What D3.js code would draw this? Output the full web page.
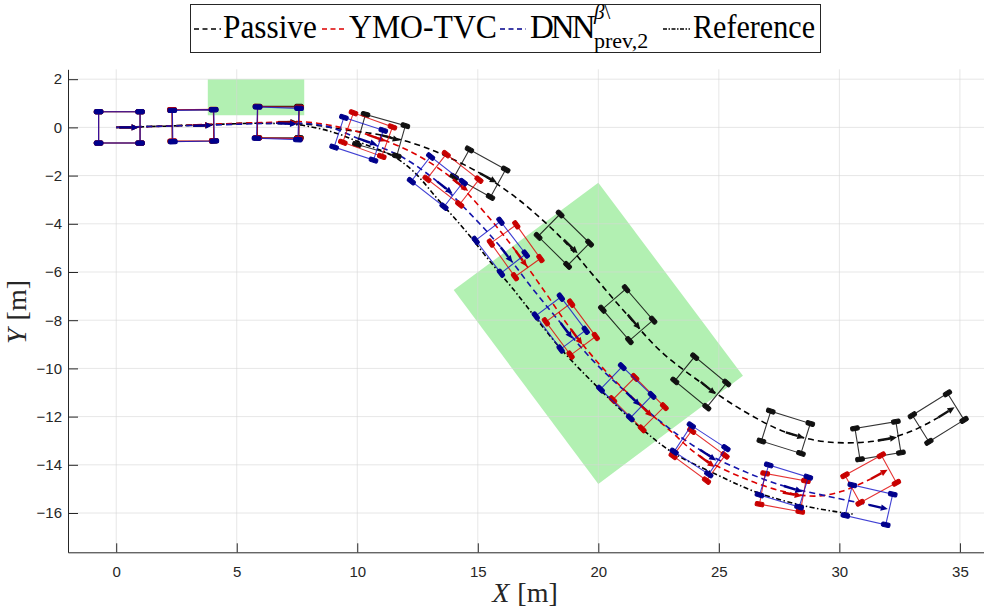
<!DOCTYPE html>
<html>
<head>
<meta charset="utf-8">
<script src="https://cdn.jsdelivr.net/npm/d3@7"></script>
<style>
  body { margin: 0; background: #fff; }
</style>
</head>
<body>
<svg id="chart" width="984" height="611"></svg>
<script>
// axis ticks
const xTicks = [0, 5, 10, 15, 20, 25, 30, 35];
const yTicks = [-16, -14, -12, -10, -8, -6, -4, -2, 0, 2];

// trajectories (m)
const refX = [0, 2, 4, 6, 7.6, 9, 10.1, 11.4, 12.3, 13.4, 14.5, 15.5, 16.5, 17.4, 18.5, 19.95, 21.74, 23.1, 24.9, 26.6, 28.7, 30.6];
const refY = [0, 0.05, 0.12, 0.17, 0.1, -0.2, -0.62, -1.15, -1.8, -3.05, -4.3, -5.55, -6.75, -7.9, -9.25, -10.76, -12.45, -13.5, -14.4, -15.15, -15.74, -16.05];

const passiveX = [0, 2, 4, 6, 8, 9.5, 10.99, 12.5, 13.7, 15.09, 16.3, 17.3, 18.57, 19.8, 21.22, 22.6, 24.25, 26, 27.78, 29.5, 31.6, 33, 34.1];
const passiveY = [0, 0.06, 0.12, 0.18, 0.12, -0.1, -0.32, -0.72, -1.2, -1.9, -2.7, -3.5, -4.7, -6.15, -7.8, -9.3, -10.58, -11.75, -12.65, -13.05, -13.0, -12.6, -12.04];

const ymoX = [0, 2, 4.2, 6.72, 7.6, 8.8, 10.43, 12.3, 13.97, 15.3, 16.57, 17.8, 18.86, 20.2, 21.67, 23, 24.18, 25.9, 27.65, 29, 30.1, 31.3];
const ymoY = [0, 0.05, 0.14, 0.22, 0.24, 0.1, -0.3, -1.05, -2.15, -3.55, -5.12, -6.85, -8.37, -10.0, -11.44, -12.6, -13.62, -14.5, -15.1, -15.3, -15.1, -14.59];

const dnnX = [0, 2, 4, 6.7, 8, 8.9, 10.06, 11.8, 13.32, 14.7, 15.95, 17.2, 18.44, 19.8, 21.16, 22.7, 24.22, 26, 27.7, 29.5, 31.23];
const dnnY = [0, 0.05, 0.1, 0.17, 0.15, 0, -0.47, -1.2, -2.25, -3.6, -4.97, -6.6, -8.12, -9.7, -10.99, -12.3, -13.38, -14.25, -14.88, -15.3, -15.66];

// vehicle snapshots: centre (m) and heading (deg)
const passiveCarX = [0.13, 3.18, 6.72, 10.99, 15.09, 18.57, 21.22, 24.25, 27.78, 31.6, 34.1];
const passiveCarY = [0, 0.08, 0.22, -0.32, -1.9, -4.66, -7.77, -10.56, -12.65, -12.99, -12.04];
const passiveCarPsi = [0, 0.5, 0, -15.9, -29, -44.6, -49.2, -39.4, -17.4, 9.3, 32];

const ymoCarX = [0.13, 3.18, 6.72, 10.43, 13.97, 16.57, 18.86, 21.67, 24.18, 27.65, 31.3];
const ymoCarY = [0, 0.09, 0.2, -0.3, -2.15, -5.12, -8.37, -11.44, -13.62, -15.15, -14.59];
const ymoCarPsi = [0, 0.5, -1, -19.9, -37.9, -54.4, -53.5, -45, -36.4, -10.4, 28.8];

const dnnCarX = [0.13, 3.2, 6.7, 10.06, 13.32, 15.95, 18.44, 21.16, 24.22, 27.7, 31.23];
const dnnCarY = [0, 0.07, 0.17, -0.47, -2.25, -4.97, -8.12, -10.99, -13.38, -14.88, -15.66];
const dnnCarPsi = [0, 1, -2, -18.2, -38, -52.4, -53.1, -44, -33.2, -17.1, -12.9];

// green zones
const zone1X = [3.8, 7.8, 7.8, 3.8];
const zone1Y = [0.5, 0.5, 2, 2];
const zone2X = [20, 26, 20, 14];
const zone2Y = [-2.3, -10.3, -14.8, -6.75];

// vehicle geometry (m)
const halfLen = 0.86, halfWid = 0.65, wheelLen = 0.36, wheelWid = 0.18, arrowLen = 0.8;

const svg = d3.select("#chart");

const x = d3.scaleLinear().domain([-2, 36]).range([68, 984]);
const y = d3.scaleLinear().domain([-17.63, 2.41]).range([552.3, 69.3]);
const k = x(1) - x(0);

// green areas
const zonePath = d3.line().x((d) => x(d[0])).y((d) => y(d[1]));
[[zone1X, zone1Y], [zone2X, zone2Y]].forEach(([zx, zy]) => {
  svg.append("path")
    .attr("d", zonePath(zx.map((v, i) => [v, zy[i]])) + "Z")
    .attr("fill", "#b2f0b2");
});

// grid
const grid = svg.append("g").attr("stroke", "#d6d6d6").attr("stroke-opacity", 0.6).attr("stroke-width", 1);
xTicks.forEach((t) => {
  grid.append("line").attr("x1", x(t)).attr("x2", x(t)).attr("y1", y.range()[0]).attr("y2", y.range()[1]);
});
yTicks.forEach((t) => {
  grid.append("line").attr("x1", x.range()[0]).attr("x2", x.range()[1]).attr("y1", y(t)).attr("y2", y(t));
});

// axes
const xAxis = svg.append("g")
  .attr("transform", `translate(0,${y.range()[0]})`)
  .call(d3.axisBottom(x).tickValues(xTicks).tickSizeInner(-9).tickSizeOuter(0).tickPadding(14));
const yAxis = svg.append("g")
  .attr("transform", `translate(${x.range()[0]},0)`)
  .call(d3.axisLeft(y).tickValues(yTicks).tickSizeInner(-10).tickSizeOuter(0).tickPadding(6));
[xAxis, yAxis].forEach((a) => {
  a.selectAll("path").attr("stroke", "#262626");
  a.selectAll("line").attr("stroke", "#262626");
  a.selectAll("text")
    .attr("fill", "#262626")
    .style("font-family", "'Liberation Sans', Arial, sans-serif")
    .style("font-size", "15px");
});

// trajectories
const line = d3.line().x((d) => x(d[0])).y((d) => y(d[1])).curve(d3.curveCatmullRom.alpha(0.5));
const traj = [
  { xs: refX, ys: refY, color: "#000", dash: "5,2.5,1.5,2.5" },
  { xs: passiveX, ys: passiveY, color: "#000", dash: "6,4" },
  { xs: ymoX, ys: ymoY, color: "#dd0000", dash: "6,4" },
  { xs: dnnX, ys: dnnY, color: "#1414aa", dash: "6,4" }
];
traj.forEach((t) => {
  svg.append("path")
    .attr("d", line(t.xs.map((v, i) => [v, t.ys[i]])))
    .attr("fill", "none")
    .attr("stroke", t.color)
    .attr("stroke-width", 1.6)
    .attr("stroke-dasharray", t.dash);
});

// vehicles
function drawCars(xs, ys, psis, lineColor, wheelColor) {
  const g = svg.append("g");
  xs.forEach((cx, i) => {
    const cy = ys[i];
    const a = psis[i] * Math.PI / 180;
    const ux = Math.cos(a), uy = Math.sin(a);
    const corners = [[1, 1], [1, -1], [-1, -1], [-1, 1]].map(([s, t]) => [
      cx + s * halfLen * ux - t * halfWid * uy,
      cy + s * halfLen * uy + t * halfWid * ux
    ]);
    g.append("polygon")
      .attr("points", corners.map((p) => x(p[0]) + "," + y(p[1])).join(" "))
      .attr("fill", "none")
      .attr("stroke", lineColor)
      .attr("stroke-opacity", 0.8)
      .attr("stroke-width", 1.1);
    corners.forEach((p) => {
      g.append("rect")
        .attr("x", -wheelLen * k / 2)
        .attr("y", -wheelWid * k / 2)
        .attr("width", wheelLen * k)
        .attr("height", wheelWid * k)
        .attr("rx", 1.5)
        .attr("fill", wheelColor)
        .attr("stroke", wheelColor)
        .attr("stroke-width", 1)
        .attr("transform", `translate(${x(p[0])},${y(p[1])}) rotate(${-psis[i]})`);
    });
    // velocity arrow
    const sx = x(cx), sy = y(cy);
    const dx = ux, dy = -uy;
    const L = arrowLen * k, head = 7, hw = 3.2;
    const tx = sx + dx * L, ty = sy + dy * L;
    const bx = tx - dx * head, by = ty - dy * head;
    g.append("line")
      .attr("x1", sx).attr("y1", sy).attr("x2", bx).attr("y2", by)
      .attr("stroke", wheelColor).attr("stroke-width", 2.4);
    g.append("polygon")
      .attr("points", [[tx, ty], [bx - dy * hw, by + dx * hw], [bx + dy * hw, by - dx * hw]].map((p) => p.join(",")).join(" "))
      .attr("fill", wheelColor);
  });
}
drawCars(passiveCarX, passiveCarY, passiveCarPsi, "#000", "#111");
drawCars(ymoCarX, ymoCarY, ymoCarPsi, "#e00000", "#c80000");
drawCars(dnnCarX, dnnCarY, dnnCarPsi, "#1010c8", "#00008c");

// axis labels
const serif = "'Liberation Serif', 'Times New Roman', serif";
const xl = svg.append("text")
  .attr("x", 525).attr("y", 602)
  .attr("text-anchor", "middle")
  .style("font-family", serif).style("font-size", "28px").attr("fill", "#262626");
xl.append("tspan").attr("font-style", "italic").text("X");
xl.append("tspan").attr("dx", 8).text("[m]");

const yl = svg.append("text")
  .attr("transform", "translate(26,312) rotate(-90)")
  .attr("text-anchor", "middle")
  .style("font-family", serif).style("font-size", "28px").attr("fill", "#262626");
yl.append("tspan").attr("font-style", "italic").text("Y");
yl.append("tspan").attr("dx", 8).text("[m]");

// legend
const leg = svg.append("g");
leg.append("rect").attr("x", 190.5).attr("y", 4.5).attr("width", 630).attr("height", 48)
  .attr("fill", "#fff").attr("stroke", "#262626").attr("stroke-width", 1);
const legItems = [
  { x0: 194, x1: 221, color: "#000", dash: "5,3.5", tx: 223, len: 94, label: "Passive" },
  { x0: 322, x1: 347, color: "#dd0000", dash: "5,3.5", tx: 349, len: 148, label: "YMO-TVC" },
  { x0: 500, x1: 526, color: "#00008b", dash: "5,3.5", tx: 530, len: 0, label: "DNN" },
  { x0: 663, x1: 690, color: "#000", dash: "4,1.5,1.5,1.5", tx: 693, len: 122, label: "Reference" }
];
legItems.forEach((d) => {
  leg.append("line").attr("x1", d.x0).attr("x2", d.x1).attr("y1", 29).attr("y2", 29)
    .attr("stroke", d.color).attr("stroke-width", 1.5).attr("stroke-dasharray", d.dash);
  const t = leg.append("text").attr("x", d.tx).attr("y", 38)
    .style("font-family", serif).style("font-size", "33px").attr("fill", "#000");
  if (d.len > 0) {
    t.attr("textLength", d.len).attr("lengthAdjust", "spacingAndGlyphs").text(d.label);
  } else {
    // DNN with super- and subscript in one text element
    t.append("tspan").attr("letter-spacing", "-3px").text(d.label);
    t.append("tspan").attr("x", 594).attr("y", 19).style("font-size", "21px")
      .attr("font-style", "italic").text("β");
    t.append("tspan").style("font-size", "21px").text("\\");
    t.append("tspan").attr("x", 594).attr("y", 48).style("font-size", "22px").text("prev,2");
  }
});
</script>
</body>
</html>
